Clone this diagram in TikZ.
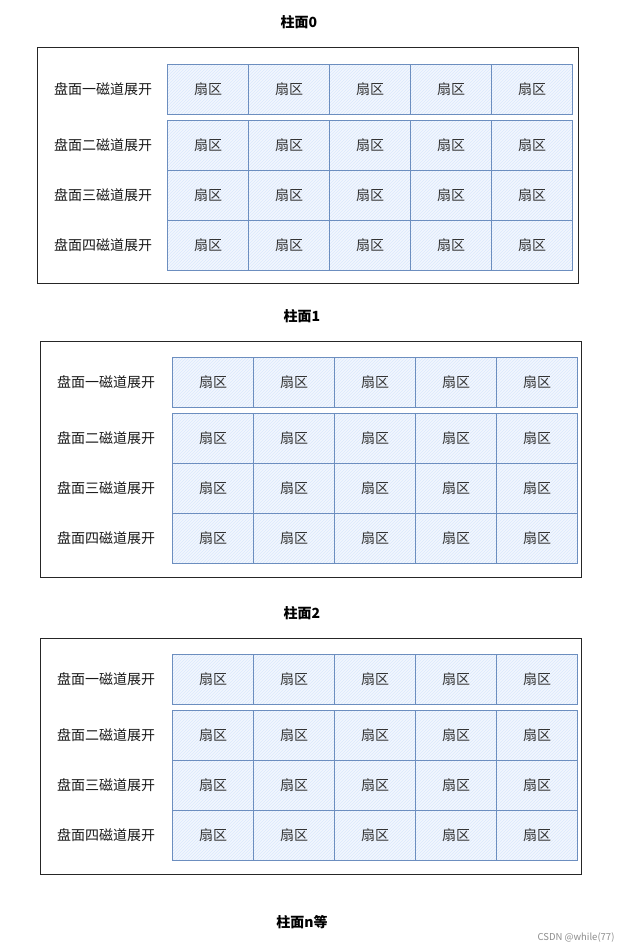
\documentclass[tikz,border=0pt]{standalone}
\usepackage{fontspec}
\setmainfont{Noto Sans CJK SC}
\usetikzlibrary{patterns,positioning}
\definecolor{sectorline}{RGB}{108,142,191}
\definecolor{sectorfill}{RGB}{218,232,252}

\begin{document}
\begin{tikzpicture}[x=1pt,y=-1pt,
  cylbox/.style={draw=black!85,line width=1pt,minimum width=541pt,
                 minimum height=236pt,anchor=north west,inner sep=0pt},
  sector/.style={draw=sectorline,line width=1.2pt,preaction={fill=sectorfill!35},
                 pattern=north east lines,pattern color=sectorfill,
                 minimum width=81pt,minimum height=50pt,inner sep=0pt,
                 anchor=north west,font=\fontsize{14}{16}\selectfont,text=black!80},
  tracklabel/.style={font=\fontsize{14}{16}\selectfont,text=black!90},
  cyltitle/.style={font=\bfseries\fontsize{14}{16}\selectfont}
]
\useasboundingbox (0,0) rectangle (623,949);
% three cylinders, four tracks each
\foreach \cyl/\bx/\by/\cx/\cy in {0/37/47/167/64,1/40/341/172/357,2/40/638/172/654}{
  \node[cylbox] (cyl\cyl) at (\bx,\by) {};
  \node[cyltitle] (title\cyl) at (\bx+262,\by-25) {柱面\cyl};
  \foreach \row/\rlabel/\ry in {1/一/0,2/二/56,3/三/106,4/四/156}{
    \node[tracklabel] (track\cyl\row) at (\bx+66,\cy+\ry+25) {盘面\rlabel 磁道展开};
    \foreach \col in {1,...,5}
      \node[sector] (sec\cyl\row\col) at (\cx+81*\col-81,\cy+\ry) {扇区};
  }
}
\node[cyltitle] (titlen) at (302,922) {柱面n等};
\node[font=\fontsize{9.5}{11}\selectfont,text=black!45,anchor=east] (csdn) at (618,938) {CSDN @while(77)};
\end{tikzpicture}
\end{document}
